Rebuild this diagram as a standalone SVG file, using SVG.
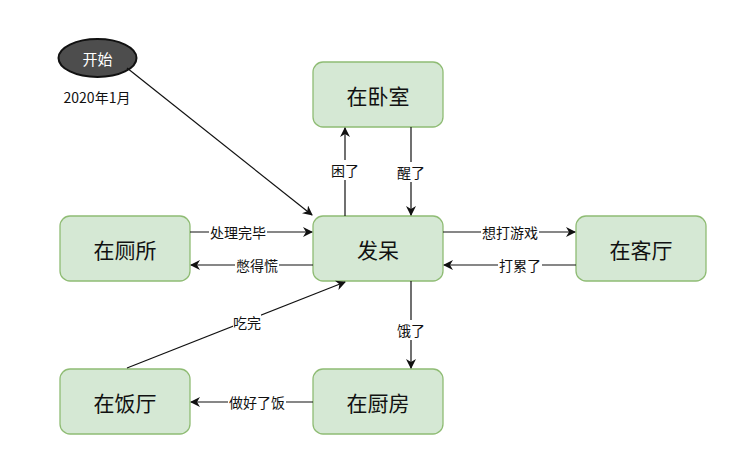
<svg xmlns="http://www.w3.org/2000/svg" width="746" height="456" viewBox="0 0 746 456">
<style>
.node rect{fill:#d5e8d4;stroke:#8fbc74;stroke-width:1.3}
.nt{font-family:"Noto Sans CJK SC","Liberation Sans",sans-serif;font-size:21px;fill:#111;text-anchor:middle;dominant-baseline:central}
.el{font-family:"Noto Sans CJK SC","Liberation Sans",sans-serif;font-size:14px;fill:#111;text-anchor:middle;dominant-baseline:central}
.lbg{fill:#fff}
.edges line{stroke:#111;stroke-width:1.2;fill:none}
</style>
<defs>
<marker id="ah" viewBox="0 0 10 10" refX="9" refY="5" markerWidth="10" markerHeight="10" markerUnits="userSpaceOnUse" orient="auto">
<path d="M0,0 L10,5 L0,10 L3,5 Z" fill="#111"/>
</marker>
</defs>
<rect width="746" height="456" fill="#fff"/>
<g id="start">
<ellipse cx="97.5" cy="58" rx="39" ry="19" fill="#4d4d4d" stroke="#111" stroke-width="2"/>
<text x="97.5" y="58" class="el" style="fill:#fff;font-size:15px">开始</text>
</g>
<g id="date"><text x="97" y="97" class="el">2020年1月</text></g>
<g id="n-woshi" class="node"><rect x="313" y="62" width="130" height="65" rx="10"/><text x="378" y="94.5" class="nt">在卧室</text></g>
<g id="n-fadai" class="node"><rect x="313" y="216" width="130" height="65" rx="10"/><text x="378" y="248.5" class="nt">发呆</text></g>
<g id="n-cesuo" class="node"><rect x="60" y="216" width="130" height="65" rx="10"/><text x="125" y="248.5" class="nt">在厕所</text></g>
<g id="n-keting" class="node"><rect x="576" y="216" width="130" height="65" rx="10"/><text x="641" y="248.5" class="nt">在客厅</text></g>
<g id="n-fanting" class="node"><rect x="60" y="369" width="130" height="65" rx="10"/><text x="125" y="401.5" class="nt">在饭厅</text></g>
<g id="n-chufang" class="node"><rect x="313" y="369" width="130" height="65" rx="10"/><text x="378" y="401.5" class="nt">在厨房</text></g>
<g id="edges" class="edges">
<line x1="127" y1="68" x2="312" y2="215" marker-end="url(#ah)"/>
<line x1="345" y1="216" x2="345" y2="128" marker-end="url(#ah)"/>
<line x1="411" y1="127" x2="411" y2="215" marker-end="url(#ah)"/>
<line x1="190" y1="232" x2="312" y2="232" marker-end="url(#ah)"/>
<line x1="313" y1="265" x2="191" y2="265" marker-end="url(#ah)"/>
<line x1="443" y1="232" x2="575" y2="232" marker-end="url(#ah)"/>
<line x1="576" y1="265" x2="444" y2="265" marker-end="url(#ah)"/>
<line x1="411" y1="281" x2="411" y2="368" marker-end="url(#ah)"/>
<line x1="313" y1="402" x2="191" y2="402" marker-end="url(#ah)"/>
<line x1="127" y1="368" x2="345" y2="282" marker-end="url(#ah)"/>
<rect class="lbg" x="331" y="160" width="28" height="20"/><text class="el" x="345" y="170">困了</text>
<rect class="lbg" x="397" y="162" width="28" height="20"/><text class="el" x="411" y="172">醒了</text>
<rect class="lbg" x="209" y="222" width="58" height="20"/><text class="el" x="238" y="232">处理完毕</text>
<rect class="lbg" x="235" y="255" width="44" height="20"/><text class="el" x="257" y="265">憋得慌</text>
<rect class="lbg" x="481" y="222" width="58" height="20"/><text class="el" x="510" y="232">想打游戏</text>
<rect class="lbg" x="498" y="255" width="44" height="20"/><text class="el" x="520" y="265">打累了</text>
<rect class="lbg" x="397" y="320" width="28" height="20"/><text class="el" x="411" y="330">饿了</text>
<rect class="lbg" x="228" y="392" width="58" height="20"/><text class="el" x="257" y="402">做好了饭</text>
<rect class="lbg" x="233" y="312" width="28" height="20"/><text class="el" x="247" y="322">吃完</text>
</g>
</svg>
